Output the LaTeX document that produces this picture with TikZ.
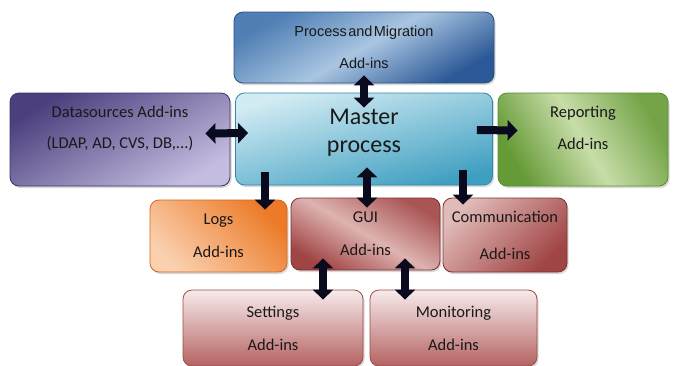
\documentclass[tikz,border=0pt]{standalone}
\usepackage{fontspec}
\setmainfont{Carlito}
\newfontfamily\pmfont{Liberation Sans}
\usetikzlibrary{arrows.meta,shadows}

\definecolor{arrowc}{HTML}{0A0A1E}
\definecolor{pmdark}{HTML}{2B5896}
\definecolor{pmmid}{HTML}{4F7FB4}
\definecolor{pmlight}{HTML}{A9C5E1}
\definecolor{pmedge}{HTML}{2B5180}
\definecolor{mplight}{HTML}{D3ECF4}
\definecolor{mpdark}{HTML}{3F9FC0}
\definecolor{mpedge}{HTML}{2F88A8}
\definecolor{dsdark}{HTML}{4C3F7D}
\definecolor{dslight}{HTML}{C4BDE0}
\definecolor{dsedge}{HTML}{3D3368}
\definecolor{repdark}{HTML}{659A36}
\definecolor{replight}{HTML}{C8DDA9}
\definecolor{repedge}{HTML}{5A8C30}
\definecolor{logdark}{HTML}{EC7A28}
\definecolor{loglight}{HTML}{FAD0AE}
\definecolor{logedge}{HTML}{D06920}
\definecolor{guidark}{HTML}{A04444}
\definecolor{guilight}{HTML}{DDB3B0}
\definecolor{guiedge}{HTML}{7E3030}
\definecolor{pinklight}{HTML}{F7EBEB}
\definecolor{pinkdark}{HTML}{B56262}
\definecolor{pinkedge}{HTML}{9C4A4A}

\begin{document}
\begin{tikzpicture}[x=1pt, y=-1pt,
    box/.style={rectangle, rounded corners=9pt, draw, line width=0.8pt, align=center,
      font=\fontsize{16.5}{20}\selectfont, text=black!90,
      drop shadow={opacity=0.3, shadow xshift=1.5pt, shadow yshift=-2pt}},
    fatarrow/.style={draw=arrowc, line width=8pt, -{Triangle[length=10pt, width=20pt]}},
    twoway/.style={fatarrow, {Triangle[length=10pt, width=20pt]}-{Triangle[length=10pt, width=20pt]}}]

    \useasboundingbox (0,0) rectangle (674,365);

    % top row
    \node[box, minimum width=260pt, minimum height=71pt, draw=pmedge,
      top color=pmmid, bottom color=pmdark, middle color=pmlight, shading angle=30,
      font=\pmfont\fontsize{14.5}{17}\selectfont] (pm) at (364,47.5)
      {Process\hspace{0.1em}and\hspace{0.1em}Migration\\[15pt]Add-ins};

    % middle row
    \node[box, minimum width=257pt, minimum height=92pt, draw=mpedge,
      top color=mplight, bottom color=mpdark, shading angle=15,
      font=\fontsize{24}{28}\selectfont] (master) at (364,139) {Master\\process\\[-12pt]\mbox{}};
    \node[box, minimum width=220pt, minimum height=93pt, draw=dsedge,
      top color=dsdark, bottom color=dslight, shading angle=30] (datasrc) at (120,139.5)
      {Datasources Add-ins\\[11pt](LDAP, AD, CVS, DB,...)\\[4pt]\mbox{}};
    \node[box, minimum width=170pt, minimum height=93pt, draw=repedge,
      top color=repdark!85!replight, bottom color=repdark, middle color=replight, shading angle=-60] (reporting) at (583,139.5)
      {Reporting\\[12pt]Add-ins\\[4pt]\mbox{}};

    % add-ins under the master process
    \node[box, minimum width=137pt, minimum height=72pt, draw=logedge,
      top color=logdark, bottom color=loglight, shading angle=-45] (logs) at (218.5,236)
      {Logs\\[13pt]Add-ins};
    \node[box, minimum width=149pt, minimum height=72pt, draw=guiedge,
      top color=guidark!85!guilight, bottom color=guidark, middle color=guilight, shading angle=-30] (gui) at (365.5,234)
      {GUI\\[13pt]Add-ins};
    \node[box, minimum width=124pt, minimum height=74pt, draw=guiedge,
      top color=guilight!90!white, bottom color=guidark, shading angle=45] (comm) at (505,235)
      {Communication\\[17pt]Add-ins};

    % bottom row
    \node[box, minimum width=180pt, minimum height=76pt, draw=pinkedge,
      top color=pinklight, bottom color=pinkdark] (settings) at (273,328)
      {Settings\\[13pt]Add-ins};
    \node[box, minimum width=167pt, minimum height=76pt, draw=pinkedge,
      top color=pinklight, bottom color=pinkdark] (monitoring) at (453.5,328)
      {Monitoring\\[13pt]Add-ins};

    % arrows
    \draw[twoway] ([yshift=8pt]pm.south) -- ([yshift=-15pt]master.north);
    \draw[twoway] ([shift={(-25pt,6pt)}]datasrc.east) -- ([shift={(13pt,6pt)}]master.west);
    \draw[fatarrow] ([shift={(-16pt,9pt)}]master.east) -- ([shift={(20pt,9pt)}]reporting.west);
    \draw[fatarrow] ([shift={(-99pt,13pt)}]master.south) -- ([shift={(46.5pt,-10pt)}]logs.north);
    \draw[twoway] ([shift={(3pt,18pt)}]master.south) -- ([shift={(1.5pt,-10pt)}]gui.north);
    \draw[fatarrow] ([shift={(99pt,15pt)}]master.south) -- ([shift={(-42pt,-7pt)}]comm.north);
    \draw[twoway] ([shift={(-42.5pt,12pt)}]gui.south) -- ([shift={(50pt,-10pt)}]settings.north);
    \draw[twoway] ([shift={(39.5pt,12pt)}]gui.south) -- ([shift={(-48.5pt,-10pt)}]monitoring.north);

\end{tikzpicture}
\end{document}
